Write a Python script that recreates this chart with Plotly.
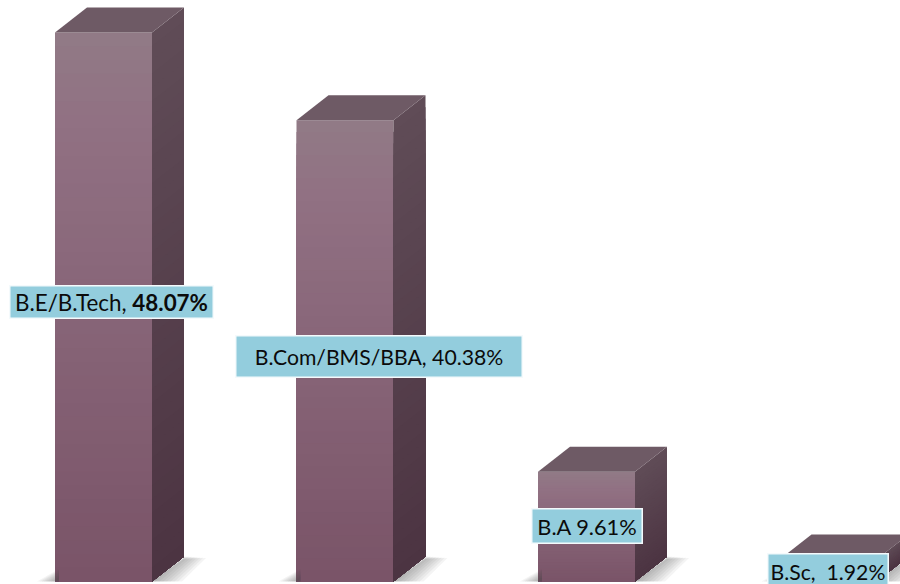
import plotly.graph_objects as go

# ---- data ----
categories = ["B.E/B.Tech", "B.Com/BMS/BBA", "B.A", "B.Sc"]
values = [48.07, 40.38, 9.61, 1.92]
label_texts = ["B.E/B.Tech, <b>48.07%</b>", "B.Com/BMS/BBA, 40.38%", "B.A 9.61%", "B.Sc,  1.92%"]

# ---- geometry of the canvas ----
W, H = 900, 584
PX_PER_CAT = 241.5
PX_PER_PCT = 11.42
X0_PX = 103.5      # centre of the first bar
Y0_PX = 581.5      # baseline
BAR_PX = 97
DEPTH_X_PX, DEPTH_Y_PX = 32, 25
bw = BAR_PX / PX_PER_CAT
dx = DEPTH_X_PX / PX_PER_CAT
dy = DEPTH_Y_PX / PX_PER_PCT
xs = list(range(len(values)))

# label boxes: left, top, width, height in pixels, and font size
label_boxes = [(9, 285, 204, 33, 22.4), (235, 336, 287, 42, 21.2), (531, 508, 111, 35, 21.8), (767, 553, 121, 36, 21.2)]


def lerp(stops, t):
    for (t0, c0), (t1, c1) in zip(stops, stops[1:]):
        if t <= t1:
            f = (t - t0) / (t1 - t0)
            return "rgb(%d,%d,%d)" % tuple(round(a + (b - a) * f) for a, b in zip(c0, c1))
    return "rgb(%d,%d,%d)" % stops[-1][1]


FRONT = [(0, (145, 122, 134)), (0.15, (145, 113, 131)), (1, (122, 84, 104))]
SIDE = [(0, (96, 76, 87)), (1, (76, 52, 66))]
TOP = (110, 90, 101)
N = 40

fig = go.Figure()

# soft floor shadows
for x, v in zip(xs, values):
    left, right = x - bw / 2, x + bw / 2
    for k in range(1, 9):
        s = (9 - k) / 8
        fig.add_trace(go.Scatter(
            x=[left - s * 18 / PX_PER_CAT, left + 4 / PX_PER_CAT, left + 4 / PX_PER_CAT, right, right + dx,
               right + dx + s * 22 / PX_PER_CAT, right + s * 30 / PX_PER_CAT],
            y=[0, 0.25 + s * 0.85, 0, 0, dy * (1 - 0.1 * s), dy * (1.02 - 0.08 * s), 0],
            mode="lines", line=dict(width=0), fill="toself",
            fillcolor="rgba(70,70,70,0.06)", hoverinfo="skip", showlegend=False))

# side and top faces; the side gradient is painted as nested polygons, tallest first
for x, v in zip(xs, values):
    right = x + bw / 2
    for i in range(N):
        a = v * (1 - i / N)
        c = lerp(SIDE, i / (N - 1))
        fig.add_trace(go.Scatter(
            x=[right, right + dx, right + dx, right, right],
            y=[a, a + dy, dy, 0, a],
            mode="lines", line=dict(width=0), fill="toself", fillcolor=c,
            hoverinfo="skip", showlegend=False))
    c = "rgb(%d,%d,%d)" % TOP
    left = x - bw / 2
    fig.add_trace(go.Scatter(
        x=[left, left + dx, right + dx, right, left],
        y=[v, v + dy, v + dy, v, v],
        mode="lines", line=dict(width=0), fill="toself", fillcolor=c,
        hoverinfo="skip", showlegend=False))

# front faces: gradient painted as nested bars, tallest first
bar_x, bar_y, bar_c = [], [], []
for x, v in zip(xs, values):
    for i in range(N):
        bar_x.append(x)
        bar_y.append(v * (1 - i / N))
        bar_c.append(lerp(FRONT, i / (N - 1)))
fig.add_trace(go.Bar(x=bar_x, y=bar_y, width=bw, marker=dict(color=bar_c, line=dict(width=0)),
                     hoverinfo="skip", showlegend=False))

for text, (l, t, w, h, fs) in zip(label_texts, label_boxes):
    fig.add_annotation(
        x=(l + w / 2) / W, y=1 - (t + h / 2) / H, xref="paper", yref="paper",
        xanchor="center", yanchor="middle", text=text, showarrow=False,
        width=w - 2, height=h - 2, align="center", valign="middle",
        bgcolor="#93cddd", bordercolor="#f4fafc", borderwidth=1.5, borderpad=0,
        font=dict(family="Lato", size=fs, color="#0b0b0b"))

fig.update_layout(
    width=W, height=H, margin=dict(l=0, r=0, t=0, b=0),
    paper_bgcolor="white", plot_bgcolor="white", barmode="overlay", showlegend=False,
    xaxis=dict(range=[-X0_PX / PX_PER_CAT, (W - X0_PX) / PX_PER_CAT], visible=False, fixedrange=True),
    yaxis=dict(range=[-(H - Y0_PX) / PX_PER_PCT, Y0_PX / PX_PER_PCT], visible=False, fixedrange=True),
)
fig.write_html("out.html", config=dict(displayModeBar=False),
               post_script="document.body.style.margin='0';document.body.style.overflow='hidden';")
